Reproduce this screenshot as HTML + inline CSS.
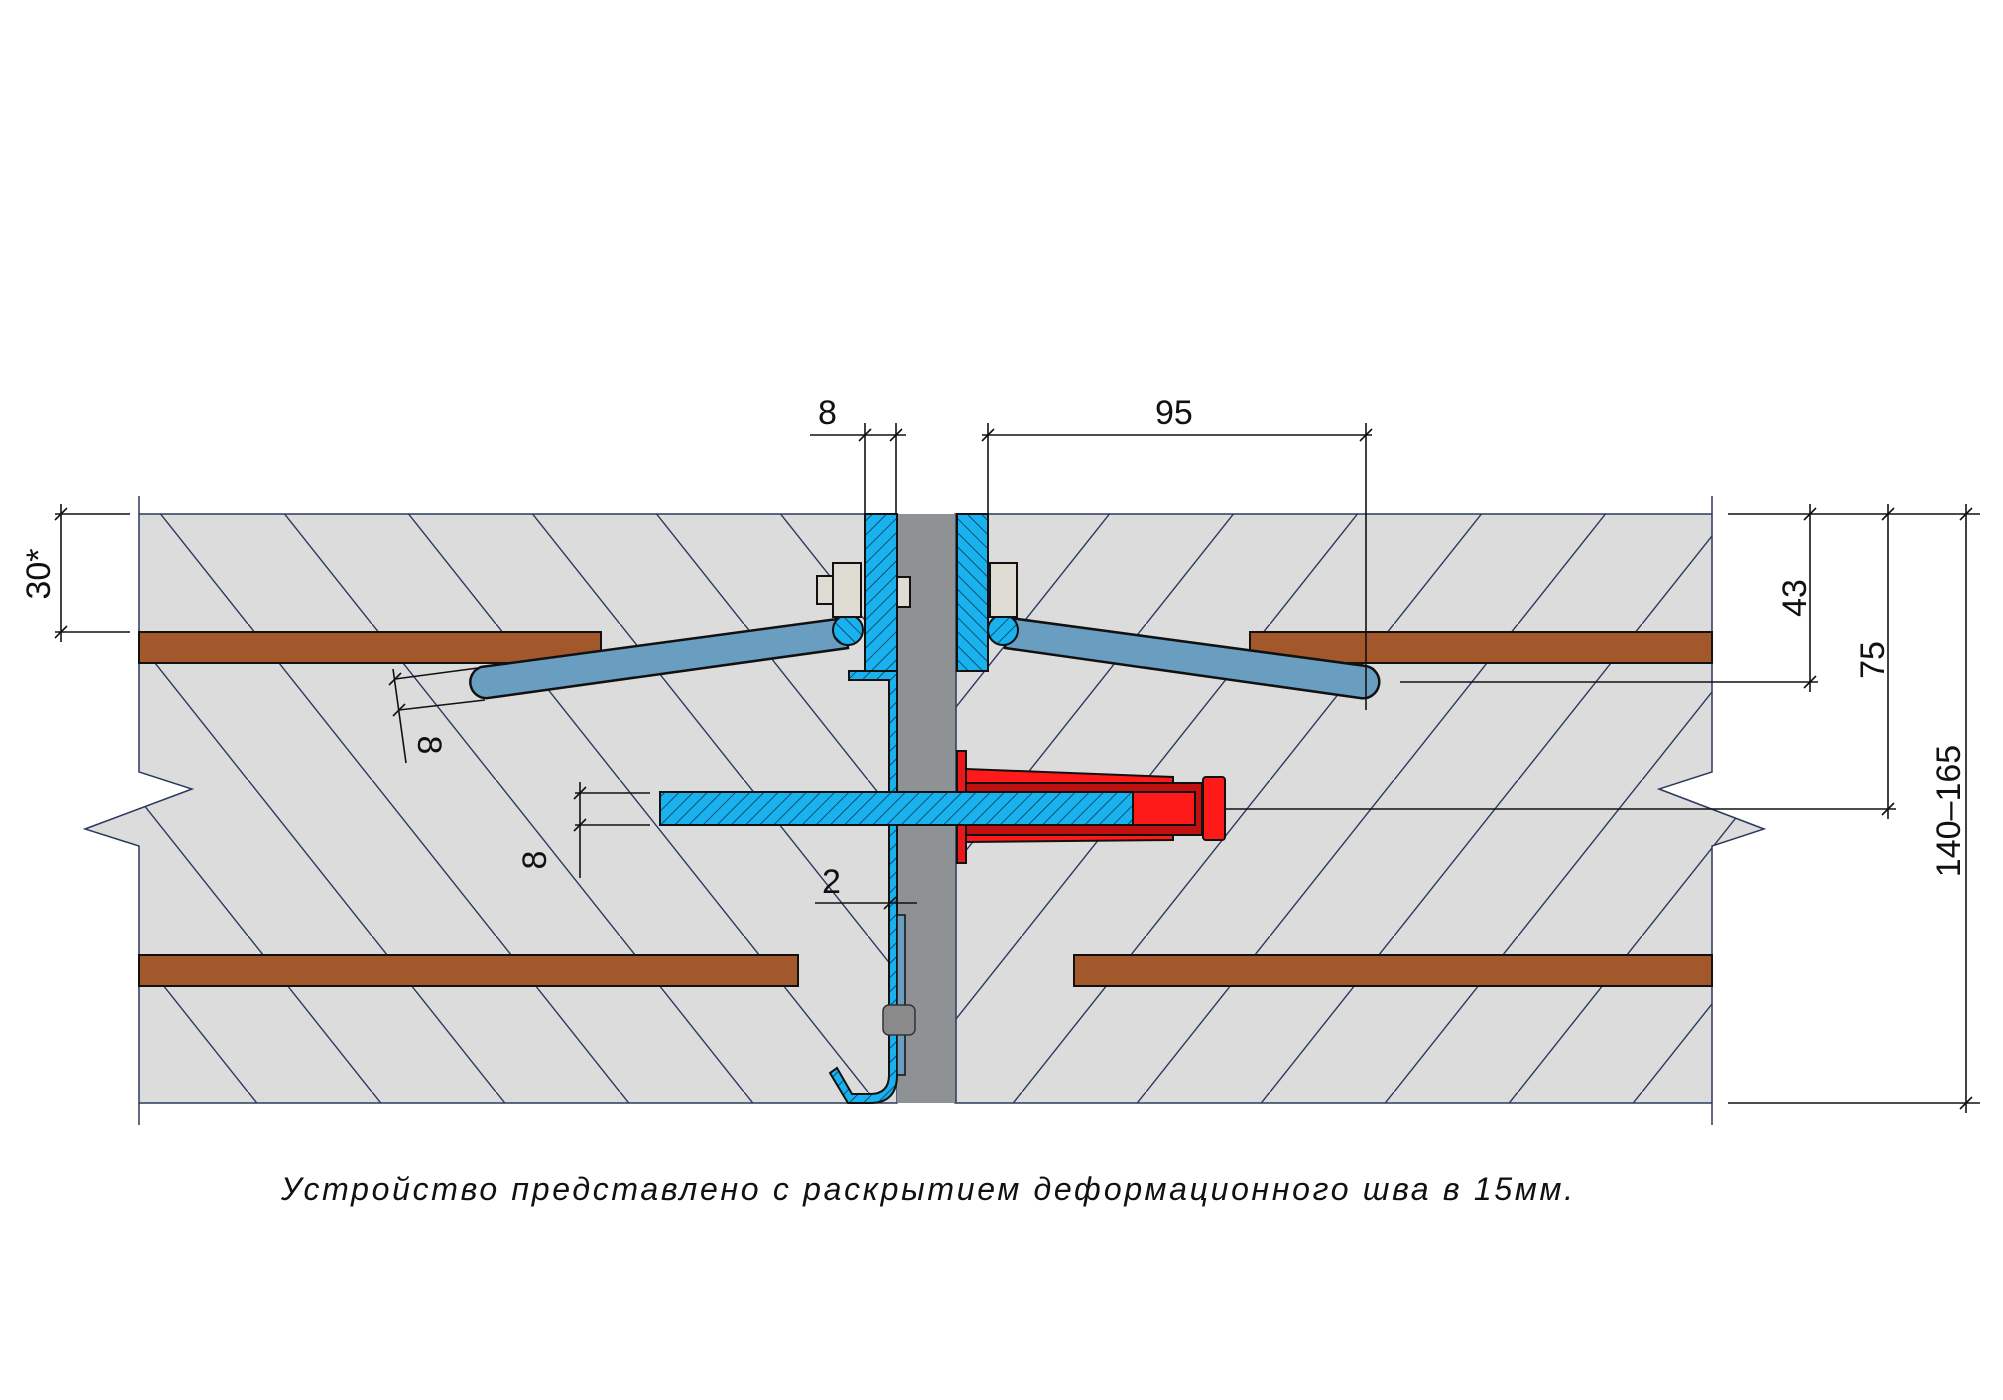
<!DOCTYPE html>
<html><head><meta charset="utf-8"><style>html,body{margin:0;padding:0;background:#fff}svg{display:block}</style></head><body>
<svg width="2003" height="1400" viewBox="0 0 2003 1400" xmlns="http://www.w3.org/2000/svg" font-family="'Liberation Sans', 'DejaVu Sans', sans-serif">
<defs>
<pattern id="hl" patternUnits="userSpaceOnUse" width="124" height="156"><line x1="0" y1="0" x2="124" y2="156" stroke="#2a3a5c" stroke-width="1.4"/></pattern>
<pattern id="hr" patternUnits="userSpaceOnUse" width="124" height="156" x="30"><line x1="124" y1="0" x2="0" y2="156" stroke="#2a3a5c" stroke-width="1.4"/></pattern>
<pattern id="bh" patternUnits="userSpaceOnUse" width="10" height="10" patternTransform="rotate(45)"><rect width="10" height="10" fill="#19b2ee"/><line x1="0" y1="0" x2="0" y2="10" stroke="#0a3550" stroke-width="1.6"/></pattern>
<pattern id="bh2" patternUnits="userSpaceOnUse" width="10" height="10" patternTransform="rotate(-45)"><rect width="10" height="10" fill="#19b2ee"/><line x1="0" y1="0" x2="0" y2="10" stroke="#0a3550" stroke-width="1.6"/></pattern>
<clipPath id="cl"><polygon points="139,514 897,514 897,1103 139,1103 139,846 85,829 192,789 139,772"/></clipPath>
<clipPath id="cr"><polygon points="955,514 1712,514 1712,772 1659,789 1764,829 1712,846 1712,1103 955,1103"/></clipPath>
</defs>
<!-- concrete -->
<polygon points="139,514 897,514 897,1103 139,1103 139,846 85,829 192,789 139,772" fill="#dcdcdc" stroke="#2a3a5c" stroke-width="1.5"/>
<polygon points="955,514 1712,514 1712,772 1659,789 1764,829 1712,846 1712,1103 955,1103" fill="#dcdcdc" stroke="#2a3a5c" stroke-width="1.5"/>
<rect x="80" y="500" width="820" height="620" fill="url(#hl)" clip-path="url(#cl)"/>
<rect x="950" y="500" width="830" height="620" fill="url(#hr)" clip-path="url(#cr)"/>
<g stroke="#2a3a5c" stroke-width="1.5">
<line x1="139" y1="496" x2="139" y2="514"/><line x1="139" y1="1103" x2="139" y2="1125"/>
<line x1="1712" y1="496" x2="1712" y2="514"/><line x1="1712" y1="1103" x2="1712" y2="1125"/>
</g>
<!-- rebars -->
<g fill="#a2582b" stroke="#111" stroke-width="2">
<rect x="139" y="632" width="462" height="31"/>
<rect x="1250" y="632" width="462" height="31"/>
<rect x="139" y="955" width="659" height="31"/>
<rect x="1074" y="955" width="638" height="31"/>
</g>
<!-- joint -->
<rect x="897" y="514" width="59" height="589" fill="#8e9294"/>
<line x1="956" y1="514" x2="956" y2="1103" stroke="#2a3a5c" stroke-width="1.5"/>
<!-- slanted bars -->
<path d="M845,618 L481,667 A16,16 0 0 0 488,698 L848,648 Z" fill="#6a9ec0" stroke="#111" stroke-width="2.5"/>
<path d="M1010,618 L1366,666 A16,16 0 0 1 1360,698 L1005,648 Z" fill="#6a9ec0" stroke="#111" stroke-width="2.5"/>
<!-- plates -->
<rect x="865" y="514" width="32" height="157" fill="url(#bh)" stroke="#111" stroke-width="2"/>
<rect x="957" y="514" width="31" height="157" fill="url(#bh2)" stroke="#111" stroke-width="2"/>
<circle cx="848" cy="630" r="15" fill="url(#bh2)" stroke="#111" stroke-width="2"/>
<circle cx="1003" cy="630" r="15" fill="url(#bh)" stroke="#111" stroke-width="2"/>
<!-- nuts -->
<g fill="#dedbd2" stroke="#111" stroke-width="2">
<rect x="833" y="563" width="28" height="54"/>
<rect x="817" y="576" width="16" height="28"/>
<rect x="897" y="577" width="13" height="30"/>
<rect x="990" y="563" width="27" height="54"/>
</g>
<!-- Z profile -->
<path d="M849,671 L897,671 L897,1075 Q897,1103 870,1103 L848,1103 L830,1073 L837,1068 L852,1094 L870,1094 Q889,1094 889,1075 L889,680 L849,680 Z" fill="url(#bh)" stroke="#111" stroke-width="2"/>
<rect x="897" y="915" width="8" height="160" fill="#6a9ec0" stroke="#111" stroke-width="1.5"/>
<rect x="883" y="1005" width="32" height="30" rx="6" fill="#8a8a8a" stroke="#333" stroke-width="1.5"/>
<!-- red anchor -->
<g stroke="#111" stroke-width="2">
<rect x="957" y="751" width="9" height="112" fill="#e8181c"/>
<polygon points="966,769 1173,777 1173,840 966,842" fill="#ff1a1a"/>
<rect x="966" y="783" width="236" height="52" fill="#c01010"/>
<rect x="1203" y="777" width="22" height="63" rx="3" fill="#ff1a1a"/>
<rect x="1133" y="792" width="62" height="33" fill="#ff1a1a"/>
</g>
<rect x="660" y="792" width="473" height="33" fill="url(#bh)" stroke="#111" stroke-width="2"/>
<!-- dimensions -->
<g stroke="#111" stroke-width="1.6" fill="none">
<line x1="865" y1="423" x2="865" y2="514"/><line x1="896" y1="423" x2="896" y2="514"/>
<line x1="810" y1="435" x2="906" y2="435"/>
<line x1="859" y1="441" x2="871" y2="429"/><line x1="890" y1="441" x2="902" y2="429"/>
<line x1="988" y1="423" x2="988" y2="514"/><line x1="1366" y1="423" x2="1366" y2="710"/>
<line x1="982" y1="435" x2="1372" y2="435"/>
<line x1="982" y1="441" x2="994" y2="429"/><line x1="1360" y1="441" x2="1372" y2="429"/>
<line x1="55" y1="514" x2="130" y2="514"/><line x1="55" y1="632" x2="130" y2="632"/>
<line x1="61" y1="504" x2="61" y2="642"/>
<line x1="55" y1="520" x2="67" y2="508"/><line x1="55" y1="638" x2="67" y2="626"/>
<line x1="1728" y1="514" x2="1980" y2="514"/>
<line x1="1400" y1="682" x2="1818" y2="682"/>
<line x1="1225" y1="809" x2="1896" y2="809"/>
<line x1="1728" y1="1103" x2="1980" y2="1103"/>
<line x1="1810" y1="504" x2="1810" y2="692"/><line x1="1888" y1="504" x2="1888" y2="819"/><line x1="1966" y1="504" x2="1966" y2="1113"/>
<line x1="1804" y1="520" x2="1816" y2="508"/><line x1="1804" y1="688" x2="1816" y2="676"/>
<line x1="1882" y1="520" x2="1894" y2="508"/><line x1="1882" y1="815" x2="1894" y2="803"/>
<line x1="1960" y1="520" x2="1972" y2="508"/><line x1="1960" y1="1109" x2="1972" y2="1097"/>
<line x1="393" y1="669" x2="406" y2="763"/>
<line x1="395" y1="679" x2="478" y2="668"/><line x1="399" y1="710" x2="485" y2="700"/>
<line x1="389" y1="685" x2="401" y2="673"/><line x1="393" y1="716" x2="405" y2="704"/>
<line x1="580" y1="782" x2="580" y2="878"/>
<line x1="575" y1="793" x2="650" y2="793"/><line x1="575" y1="825" x2="650" y2="825"/>
<line x1="574" y1="799" x2="586" y2="787"/><line x1="574" y1="831" x2="586" y2="819"/>
<line x1="815" y1="903" x2="917" y2="903"/>
<line x1="884" y1="909" x2="896" y2="897"/>
</g>
<g font-size="34" fill="#111">
<text x="818" y="424">8</text>
<text x="1155" y="424">95</text>
<text transform="translate(50,574) rotate(-90)" text-anchor="middle">30*</text>
<text transform="translate(1806,598) rotate(-90)" text-anchor="middle">43</text>
<text transform="translate(1884,660) rotate(-90)" text-anchor="middle">75</text>
<text transform="translate(1960,811) rotate(-90)" text-anchor="middle">140–165</text>
<text transform="translate(418,745) rotate(90)" text-anchor="middle">8</text>
<text transform="translate(546,860) rotate(-90)" text-anchor="middle">8</text>
<text x="822" y="893">2</text>
</g>
<text x="281" y="1200" font-size="32" font-style="italic" fill="#111" textLength="1292" lengthAdjust="spacing">Устройство представлено с раскрытием деформационного шва в 15мм.</text>
</svg>
</body></html>
